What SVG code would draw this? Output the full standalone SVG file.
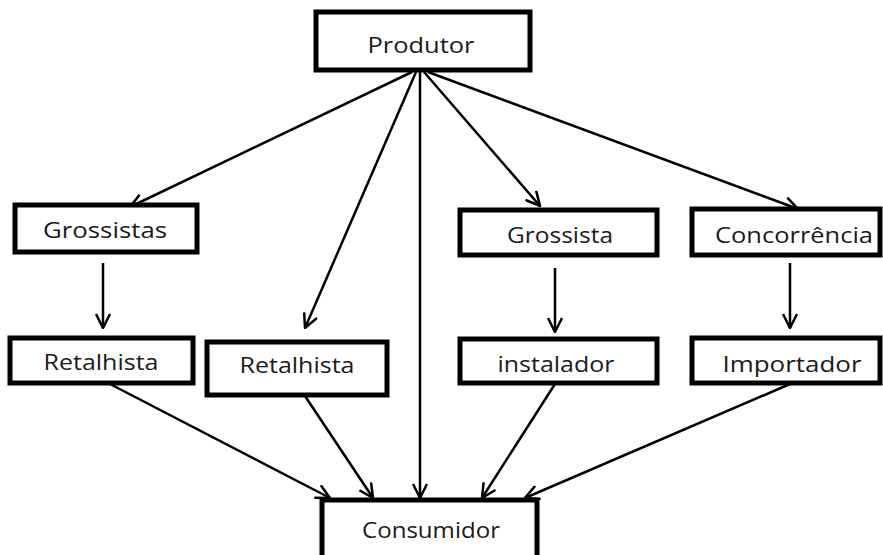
<svg xmlns="http://www.w3.org/2000/svg" width="883" height="555" viewBox="0 0 883 555">
<defs>
<style>
.box{fill:#fff;stroke:#000;stroke-width:5}
.lbl{font-family:"Open Sans","Liberation Sans",sans-serif;font-size:22px;fill:#1a1a1a;text-anchor:middle}
.c{stroke:#000;stroke-width:2.5;fill:none}
</style>
<marker id="ah" viewBox="0 0 16 16" refX="15" refY="8" markerWidth="16" markerHeight="16" markerUnits="userSpaceOnUse" orient="auto">
<path d="M1,1 L15,8 L1,15" fill="none" stroke="#000" stroke-width="2.5"/>
</marker>
</defs>
<rect width="883" height="555" fill="#fff"/>
<g id="connectors">
<line class="c" x1="412" y1="72" x2="130" y2="207" marker-end="url(#ah)"/>
<line class="c" x1="416" y1="72" x2="305" y2="328" marker-end="url(#ah)"/>
<line class="c" x1="420" y1="72" x2="420" y2="498" marker-end="url(#ah)"/>
<line class="c" x1="424" y1="72" x2="540" y2="206" marker-end="url(#ah)"/>
<line class="c" x1="428" y1="72" x2="798" y2="209" marker-end="url(#ah)"/>
<line class="c" x1="103" y1="263" x2="103" y2="328" marker-end="url(#ah)"/>
<line class="c" x1="555" y1="268" x2="555" y2="332" marker-end="url(#ah)"/>
<line class="c" x1="790" y1="263" x2="790" y2="328" marker-end="url(#ah)"/>
<line class="c" x1="110" y1="384" x2="330" y2="498" marker-end="url(#ah)"/>
<line class="c" x1="305" y1="396" x2="373" y2="498" marker-end="url(#ah)"/>
<line class="c" x1="555" y1="384" x2="482" y2="498" marker-end="url(#ah)"/>
<line class="c" x1="790" y1="384" x2="525" y2="498" marker-end="url(#ah)"/>
</g>
<g id="produtor"><rect class="box" x="316" y="12" width="214" height="58"/><text class="lbl" x="421" y="53" textLength="107" lengthAdjust="spacingAndGlyphs">Produtor</text></g>
<g id="grossistas"><rect class="box" x="15" y="205" width="182" height="47"/><text class="lbl" x="105" y="238" textLength="124" lengthAdjust="spacingAndGlyphs">Grossistas</text></g>
<g id="retalhista1"><rect class="box" x="10" y="338" width="183" height="45"/><text class="lbl" x="101" y="370" textLength="115" lengthAdjust="spacingAndGlyphs">Retalhista</text></g>
<g id="retalhista2"><rect class="box" x="207" y="342" width="180" height="53"/><text class="lbl" x="297" y="373" textLength="115" lengthAdjust="spacingAndGlyphs">Retalhista</text></g>
<g id="grossista"><rect class="box" x="460" y="210" width="197" height="45"/><text class="lbl" x="560" y="243" textLength="106" lengthAdjust="spacingAndGlyphs">Grossista</text></g>
<g id="instalador"><rect class="box" x="460" y="339" width="197" height="44"/><text class="lbl" x="556" y="372" textLength="117" lengthAdjust="spacingAndGlyphs">instalador</text></g>
<g id="concorrencia"><rect class="box" x="692" y="209" width="188" height="46"/><text class="lbl" x="794" y="243" textLength="158" lengthAdjust="spacingAndGlyphs">Concorrência</text></g>
<g id="importador"><rect class="box" x="692" y="338" width="188" height="45"/><text class="lbl" x="792" y="372" textLength="139" lengthAdjust="spacingAndGlyphs">Importador</text></g>
<g id="consumidor"><rect class="box" x="322" y="500" width="215" height="70"/><text class="lbl" x="431" y="538" textLength="138" lengthAdjust="spacingAndGlyphs">Consumidor</text></g>
</svg>
